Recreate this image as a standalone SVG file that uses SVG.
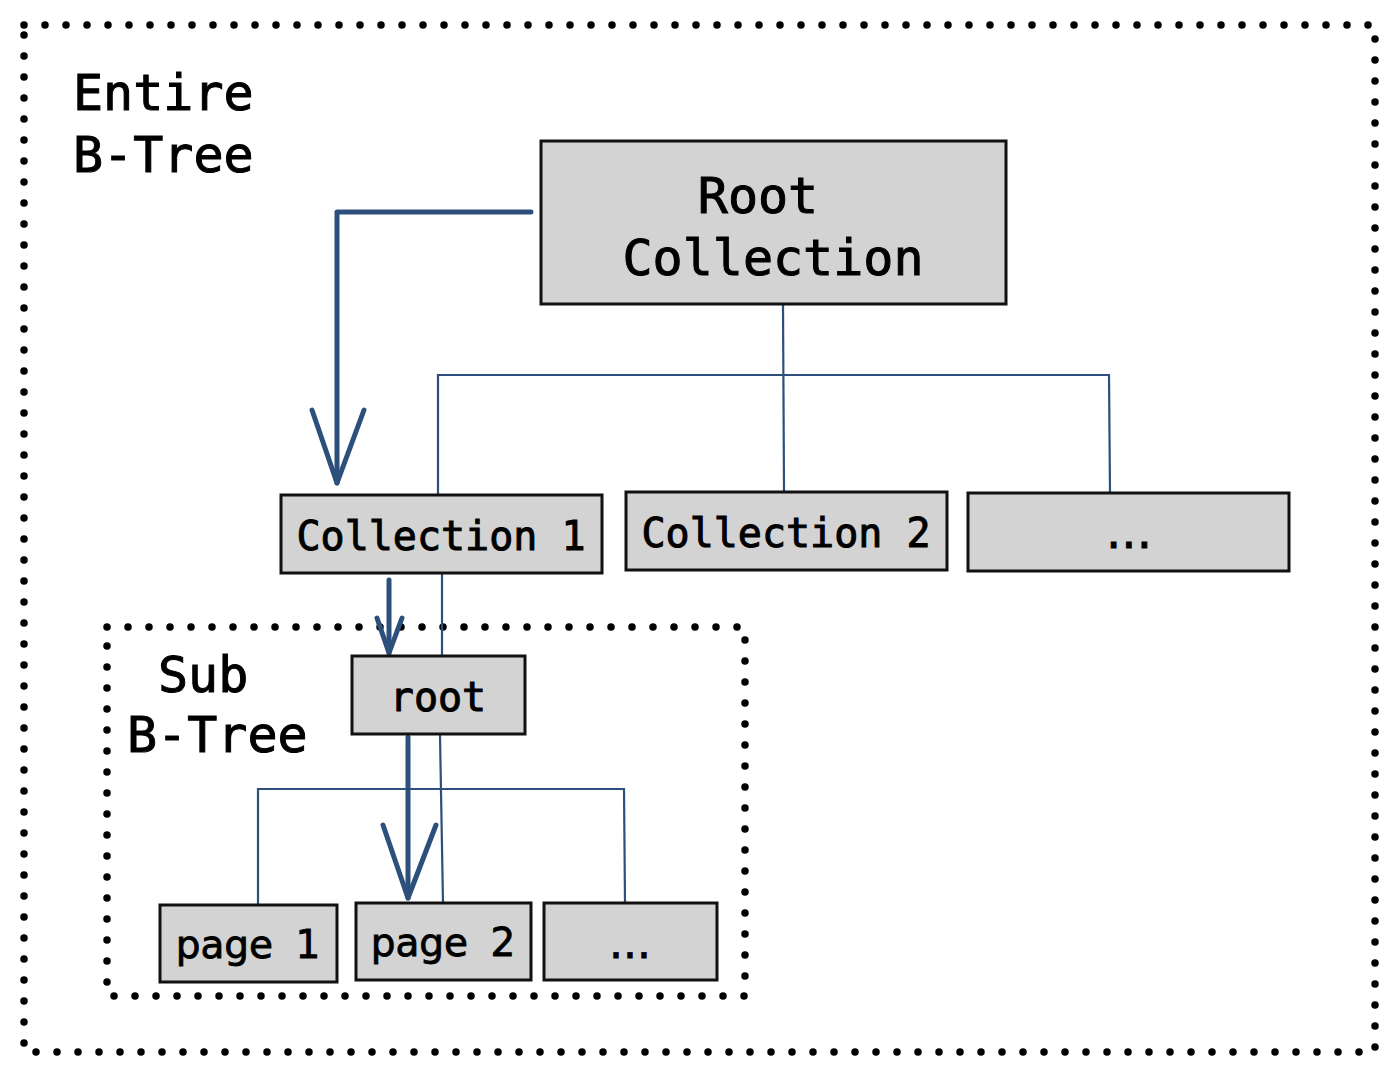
<svg xmlns="http://www.w3.org/2000/svg" width="1400" height="1078" viewBox="0 0 1400 1078">
<style>
.frame{fill:none;stroke:#000;stroke-width:7.5;stroke-linecap:round;stroke-dasharray:0 21}
.box{fill:#d3d3d3;stroke:#111;stroke-width:3}
.mono{font-family:"DejaVu Sans Mono","Liberation Mono",monospace;fill:#000;stroke:#000;stroke-width:1}
.sans{font-family:"DejaVu Sans","Liberation Sans",sans-serif;fill:#000;stroke:#000;stroke-width:0.8}
.thin{fill:none;stroke:#2c4f7c;stroke-width:2.2}
.thick{fill:none;stroke:#2c4f7c;stroke-width:5;stroke-linecap:round;stroke-linejoin:round}
</style>
<rect width="1400" height="1078" fill="#fff"/>
<g id="entire-btree">
<rect class="frame" x="24" y="25" width="1351" height="1027"/>
<text class="mono" font-size="50" x="73" y="110">Entire</text>
<text class="mono" font-size="50" x="73" y="172">B-Tree</text>
</g>
<g id="sub-btree">
<rect class="frame" x="107" y="627" width="638" height="369"/>
<text class="mono" font-size="50" x="158" y="692">Sub</text>
<text class="mono" font-size="50" x="127" y="752">B-Tree</text>
</g>
<g id="connectors">
<polyline class="thin" points="783,304 784,491"/>
<polyline class="thin" points="438,495 438,375 1109,375 1110,492"/>
<polyline class="thin" points="442,574 442,655"/>
<polyline class="thin" points="258,905 258,789 624,789 625,903"/>
<polyline class="thin" points="440,735 443,903"/>
<polyline class="thick" points="531,212 337,212 337,483"/>
<polyline class="thick" points="312,410 337,483 364,410"/>
<polyline class="thick" points="389,580 389,653"/>
<polyline class="thick" points="377,618 389,653 402,618"/>
<polyline class="thick" points="408,737 408,898"/>
<polyline class="thick" points="383,825 408,898 436,825"/>
</g>
<g id="root-collection">
<rect class="box" x="541" y="141" width="465" height="163"/>
<text class="mono" font-size="50" x="758" y="213" text-anchor="middle">Root</text>
<text class="mono" font-size="50" x="773" y="275" text-anchor="middle">Collection</text>
</g>
<g id="collection-1">
<rect class="box" x="281" y="495" width="321" height="78"/>
<text class="mono" font-size="40" x="441" y="550" text-anchor="middle">Collection 1</text>
</g>
<g id="collection-2">
<rect class="box" x="626" y="492" width="321" height="78"/>
<text class="mono" font-size="40" x="786" y="547" text-anchor="middle">Collection 2</text>
</g>
<g id="collection-more">
<rect class="box" x="968" y="493" width="321" height="78"/>
<text class="sans" font-size="48" x="1129" y="548" text-anchor="middle">...</text>
</g>
<g id="root">
<rect class="box" x="352" y="656" width="173" height="78"/>
<text class="mono" font-size="40" x="438" y="711" text-anchor="middle">root</text>
</g>
<g id="page-1">
<rect class="box" x="160" y="905" width="177" height="77"/>
<text class="sans" font-size="39" x="248" y="958" text-anchor="middle" word-spacing="10">page 1</text>
</g>
<g id="page-2">
<rect class="box" x="356" y="903" width="175" height="77"/>
<text class="sans" font-size="39" x="443" y="956" text-anchor="middle" word-spacing="10">page 2</text>
</g>
<g id="page-more">
<rect class="box" x="544" y="903" width="173" height="77"/>
<text class="sans" font-size="44" x="630" y="958" text-anchor="middle">...</text>
</g>
</svg>
